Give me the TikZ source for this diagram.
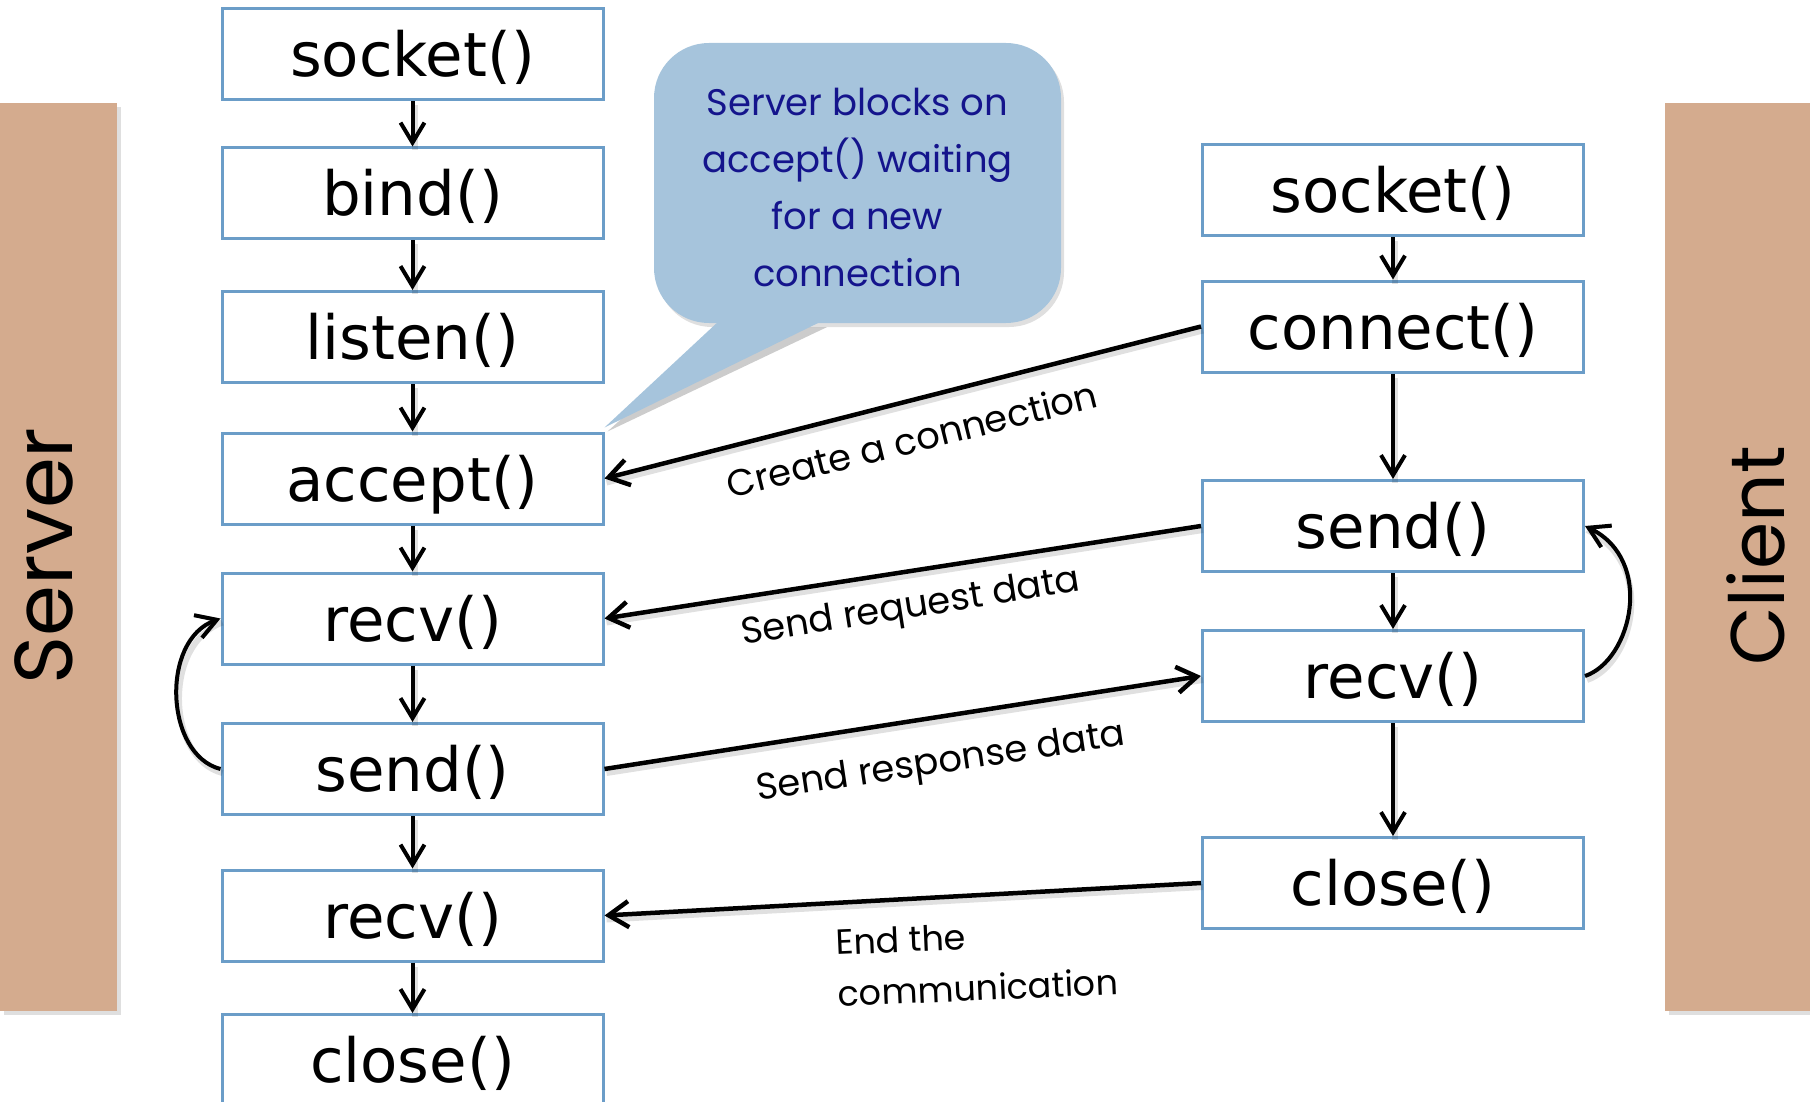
\documentclass[tikz,border=0pt]{standalone}
\usepackage{fontspec}
\setmainfont{DejaVu Sans}
\newfontfamily\lblfont{Poppins}
\usetikzlibrary{arrows.meta,shadows}
\definecolor{boxblue}{RGB}{107,157,200}
\definecolor{bartan}{RGB}{212,171,142}
\definecolor{bubblue}{RGB}{166,196,220}
\definecolor{navytext}{RGB}{20,20,140}
\begin{document}
\begin{tikzpicture}[x=1pt,y=-1pt,
  fn/.style={draw=boxblue, line width=3pt, fill=white, minimum width=381pt,
    minimum height=91pt, inner sep=0pt, text height=53pt, text depth=8pt,
    font=\fontsize{61}{63}\selectfont},
  soft/.style={preaction={draw=black, opacity=0.12, line width=6pt, -, transform canvas={shift={(2pt,-4pt)}}}},
  flow/.style={soft, line width=4pt, -{Straight Barb[length=20pt,width=24pt]}},
  msg/.style={soft, line width=4.5pt, -{Straight Barb[length=20pt,width=26pt]}},
  lbl/.style={font=\lblfont\fontsize{37}{52}\selectfont, inner sep=0pt},
  sidebar/.style={fill=bartan, draw=none, inner sep=0pt, anchor=north west,
    drop shadow={shadow xshift=4pt, shadow yshift=-4pt, opacity=0.25}},
  sidetitle/.style={rotate=90, font=\lblfont\fontsize{82}{82}\selectfont, inner sep=0pt}
]
\useasboundingbox (0,0) rectangle (1810,1102);
\clip (0,0) rectangle (1810,1102);

% side bars
\node[sidebar, minimum width=117pt, minimum height=908pt] (sbar) at (0,103) {};
\node[sidebar, minimum width=145pt, minimum height=908pt] (cbar) at (1665,103) {};
\node[sidetitle] (stitle) at (44,556) {Server};
\node[sidetitle, font=\lblfont\fontsize{76}{76}\selectfont] (ctitle) at (1756,556) {Client};

% bubble
\node[fill=bubblue, rounded corners=55pt, minimum width=407pt, minimum height=280pt,
  inner sep=0pt, drop shadow={shadow xshift=3pt, shadow yshift=-4pt, opacity=0.25}]
  (bub) at (857.5,183) {};
\node[inner sep=0pt, align=center, text=navytext, font=\lblfont\fontsize{37}{57}\selectfont]
  (bubtext) at (857.5,187) {Server blocks on\\accept() waiting\\for a new\\connection};

% server boxes
\node[fn] (ssock) at (412.5,54) {socket()};
\node[fn] (sbind) at (412.5,193.5) {bind()};
\node[fn] (slist) at (412.5,337) {listen()};
\node[fn] (sacc) at (412.5,478.5) {accept()};
\node[fn] (srecv) at (412.5,618.5) {recv()};
\node[fn] (ssend) at (412.5,769) {send()};
\node[fn] (srecvb) at (412.5,915.5) {recv()};
\node[fn] (sclose) at (412.5,1060) {close()};

% client boxes
\node[fn] (csock) at (1393,190.5) {socket()};
\node[fn] (cconn) at (1393,326.5) {connect()};
\node[fn] (csend) at (1393,526) {send()};
\node[fn] (crecv) at (1393,676) {recv()};
\node[fn] (cclose) at (1393,883) {close()};

% bubble tail
\coordinate (tip) at ([yshift=4pt]sacc.north east);
\fill[black, opacity=0.2] ([xshift=69pt,yshift=-4pt]bub.south west) -- ([xshift=173pt,yshift=-4pt]bub.south west) -- ([xshift=3pt,yshift=-4pt]tip) -- cycle;
\fill[bubblue] ([xshift=66pt,yshift=3pt]bub.south west) -- ([xshift=170pt,yshift=3pt]bub.south west) -- (tip) -- cycle;

% server flow
\draw[flow] (ssock) -- (sbind);
\draw[flow] (sbind) -- (slist);
\draw[flow] (slist) -- (sacc);
\draw[flow] (sacc) -- (srecv);
\draw[flow] (srecv) -- (ssend);
\draw[flow] (ssend) -- (srecvb);
\draw[flow] (srecvb) -- (sclose);
\draw[flow] (ssend.west) .. controls (165,755) and (160,640) .. (srecv.west);

% client flow
\draw[flow] (csock) -- (cconn);
\draw[flow] (cconn) -- (csend);
\draw[flow] (csend) -- (crecv);
\draw[flow] (crecv) -- (cclose);
\draw[flow] (crecv.east) .. controls (1632,660) and (1655,560) .. (csend.east);

% messages
\draw[msg] (cconn.west) -- (sacc.east);
\draw[msg] (csend.west) -- (srecv.east);
\draw[msg] (ssend.east) -- (crecv.west);
\draw[msg] (cclose.west) -- (srecvb.east);

\node[lbl, rotate=14] (l1) at (912,439) {Create a connection};
\node[lbl, rotate=9] (l2) at (911,609) {Send request data};
\node[lbl, rotate=8.5] (l3) at (941,764) {Send response data};
\node[lbl, rotate=2.5, align=left, font=\lblfont\fontsize{35}{52}\selectfont] (l4) at (977,962) {End the\\communication};
\end{tikzpicture}
\end{document}
